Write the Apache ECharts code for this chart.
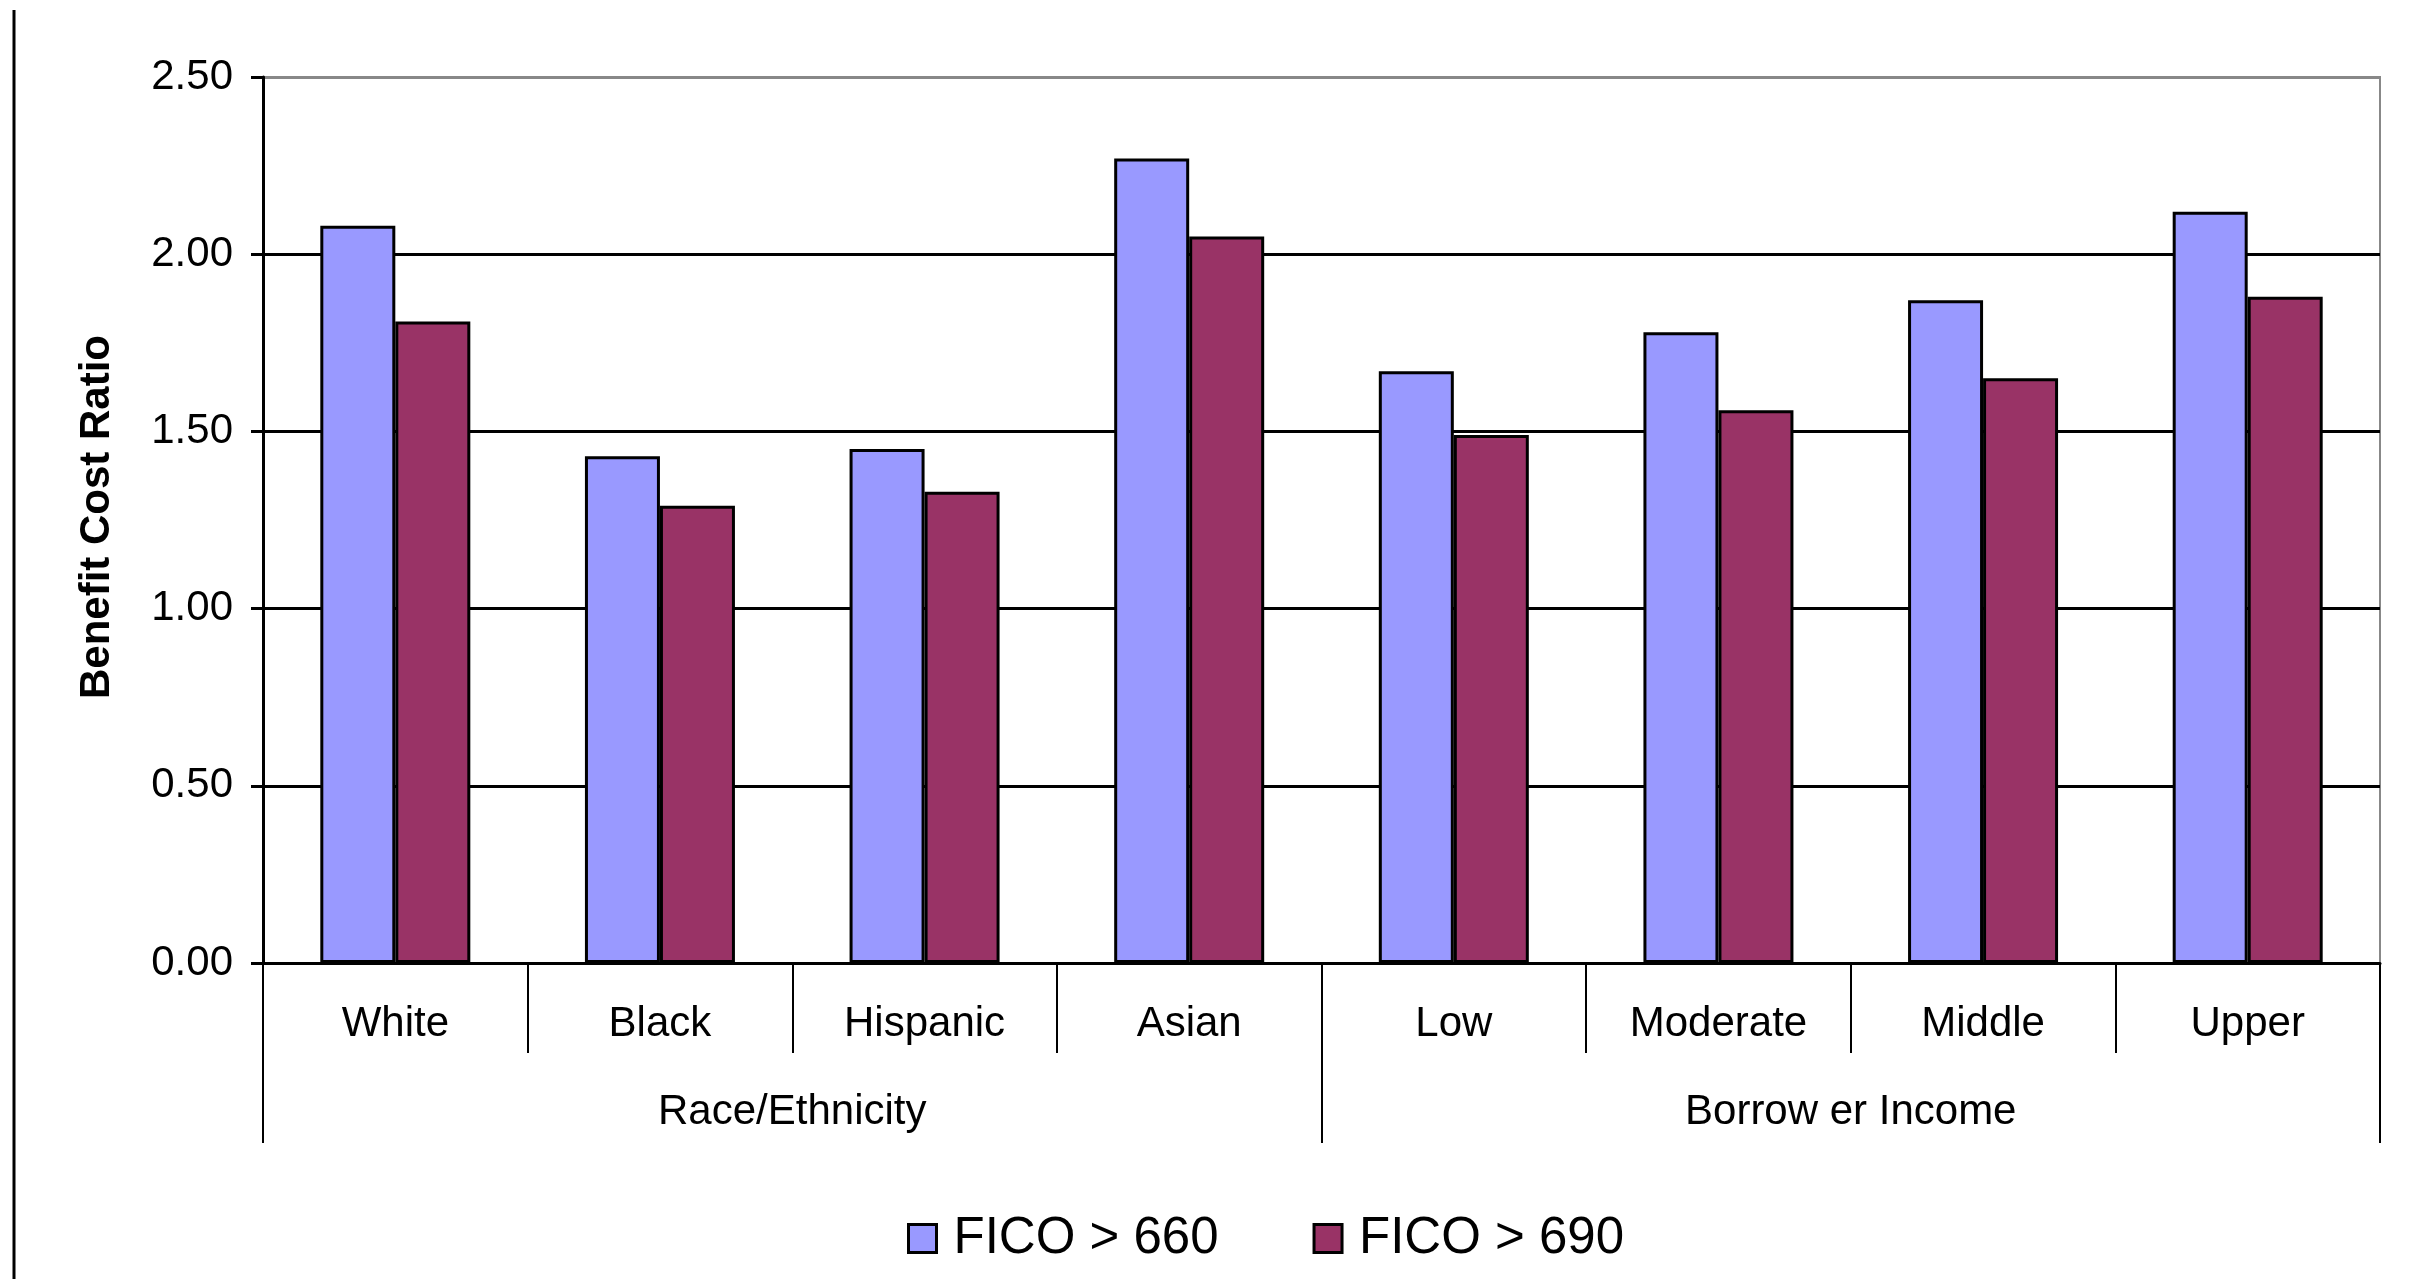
<!DOCTYPE html>
<html>
<head>
<meta charset="utf-8">
<title>Benefit Cost Ratio</title>
<script src="https://cdn.jsdelivr.net/npm/echarts@6/dist/echarts.min.js"></script>
<style>
  html, body { margin: 0; padding: 0; background: #fff; }
  #chart { width: 2424px; height: 1279px; }
</style>
</head>
<body>
<div id="chart"></div>
<script>
// Benefit/cost ratios by borrower group under two FICO cut-offs
const categories = ['White', 'Black', 'Hispanic', 'Asian', 'Low', 'Moderate', 'Middle', 'Upper'];
const groups = ['Race/Ethnicity', 'Borrow er Income'];
const seriesNames = ['FICO > 660', 'FICO > 690'];
const fico660 = [2.08, 1.43, 1.45, 2.27, 1.67, 1.78, 1.87, 2.12];
const fico690 = [1.81, 1.29, 1.33, 2.05, 1.49, 1.56, 1.65, 1.88];
const yTitle = 'Benefit Cost Ratio';

const FONT = '"Liberation Sans", Arial, sans-serif';
const chart = echarts.init(document.getElementById('chart'), null, { renderer: 'canvas' });

chart.setOption({
  backgroundColor: '#ffffff',
  animation: false,
  color: ['#9999FF', '#993366'],
  textStyle: { fontFamily: FONT, color: '#000' },
  grid: {
    left: 263, right: 44, top: 77, bottom: 316,
    show: true, borderColor: '#888888', borderWidth: 2, backgroundColor: 'transparent'
  },
  legend: {
    data: seriesNames,
    bottom: 10,
    left: 902,
    icon: 'rect',
    itemWidth: 28,
    itemHeight: 28,
    itemGap: 94,
    itemStyle: { borderColor: '#000', borderWidth: 3 },
    textStyle: { fontSize: 51, fontFamily: FONT, color: '#000', padding: [0, 0, 0, 12] }
  },
  xAxis: [
    {
      type: 'category',
      data: categories,
      position: 'bottom',
      axisLine: { show: true, lineStyle: { color: '#000', width: 3 } },
      axisTick: { show: true, length: 90, interval: 0, lineStyle: { color: '#000', width: 2 } },
      axisLabel: { fontSize: 42, fontFamily: FONT, color: '#000', margin: 40, interval: 0 },
      splitLine: { show: false }
    },
    {
      type: 'category',
      data: groups,
      position: 'bottom',
      offset: 0,
      axisLine: { show: false },
      axisTick: { show: true, length: 180, interval: 0, lineStyle: { color: '#000', width: 2 } },
      axisLabel: { fontSize: 42, fontFamily: FONT, color: '#000', margin: 128, interval: 0 },
      splitLine: { show: false }
    }
  ],
  yAxis: {
    type: 'value',
    min: 0,
    max: 2.5,
    interval: 0.5,
    axisLine: { show: true, lineStyle: { color: '#000', width: 3 } },
    axisTick: { show: true, length: 12, lineStyle: { color: '#000', width: 3 } },
    axisLabel: {
      fontSize: 42, fontFamily: FONT, color: '#000', margin: 30,
      formatter: v => v.toFixed(2)
    },
    splitLine: {
      show: true,
      lineStyle: { color: ['#000', '#000', '#000', '#000', '#000', '#888'], width: 3 }
    }
  },
  graphic: [
    {
      type: 'line',
      shape: { x1: 14, y1: 10, x2: 14, y2: 1279 },
      style: { stroke: '#000', lineWidth: 3 }
    },
    {
      type: 'text',
      x: 97,
      y: 517,
      rotation: Math.PI / 2,
      style: {
        text: yTitle,
        font: 'bold 42px ' + FONT,
        fill: '#000',
        align: 'center',
        verticalAlign: 'middle'
      }
    }
  ],
  series: [
    {
      name: seriesNames[0],
      type: 'bar',
      data: fico660,
      barWidth: 75,
      barGap: '0%',
      itemStyle: { borderColor: '#000', borderWidth: 3 }
    },
    {
      name: seriesNames[1],
      type: 'bar',
      data: fico690,
      barWidth: 75,
      barGap: '0%',
      itemStyle: { borderColor: '#000', borderWidth: 3 }
    }
  ]
});
</script>
</body>
</html>
